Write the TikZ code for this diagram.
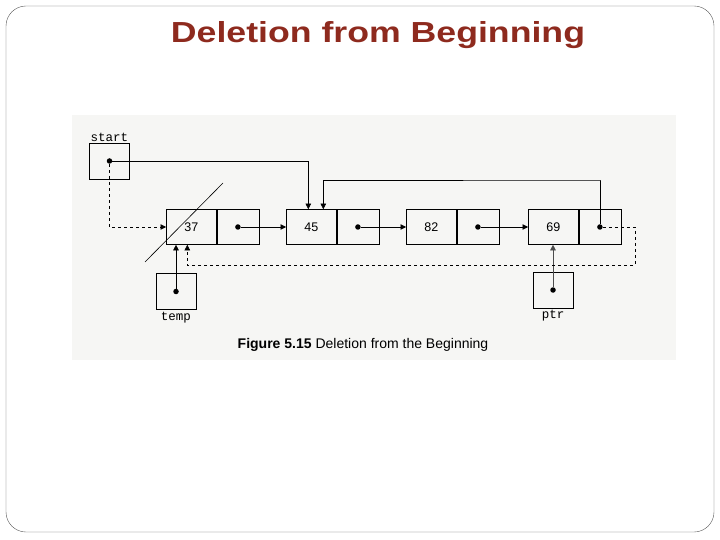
\documentclass[tikz,border=0pt]{standalone}
\usepackage{fontspec}
\setmainfont{Liberation Sans}
\setmonofont{Liberation Mono}
\usetikzlibrary{arrows.meta,positioning}
\definecolor{titlered}{RGB}{142,42,30}
\definecolor{scangray}{RGB}{246,246,244}
\def\rowy{227}
\def\dataw{50pt}
\def\ptrw{42pt}
\def\cellh{35pt}

\begin{document}
\begin{tikzpicture}[x=1pt, y=-1pt,
    cell/.style={draw, line width=0.6pt, minimum height=\cellh, inner sep=0pt, font=\fontsize{12.5}{14}\selectfont},
    datacell/.style={cell, minimum width=\dataw, anchor=west},
    ptrcell/.style={cell, minimum width=\ptrw, right=0pt of #1},
    varbox/.style={draw, line width=0.6pt, minimum width=40pt, minimum height=36pt, inner sep=0pt},
    dot/.style={circle, fill=black, inner sep=0pt, minimum size=5.5pt},
    varlbl/.style={font=\ttfamily\fontsize{12.5}{14}\selectfont, inner sep=1pt},
    link/.style={line width=0.6pt, -{Triangle[length=5.5pt, width=5.5pt]}}]
    \useasboundingbox (0,0) rectangle (720,540);
    % Slide frame and title.
    \draw[rounded corners=20pt, gray!70!black] (6,6) rectangle (714,532);
    \node[font=\bfseries\fontsize{29}{32}\selectfont, text=titlered, xscale=1.23, transform shape] (title) at (378,35) {Deletion from Beginning};
    % Scanned figure background.
    \fill[scangray] (72,115) rectangle (676,360);

    % List nodes: data part and pointer part.
    \node[datacell] (d37) at (166,\rowy) {37};
    \node[ptrcell=d37] (p37) {};
    \node[datacell] (d45) at (286,\rowy) {45};
    \node[ptrcell=d45] (p45) {};
    \node[datacell] (d82) at (406,\rowy) {82};
    \node[ptrcell=d82] (p82) {};
    \node[datacell] (d69) at (528,\rowy) {69};
    \node[ptrcell=d69] (p69) {};
    \foreach \v in {37,45,82,69} {
            \node[dot] (k\v) at (p\v.center) {};
        }

    % Pointer variables.
    \node[varbox] (start) at (109.5,161) {};
    \node[varlbl, above=0pt of start] (startlbl) {start};
    \node[dot] (kstart) at (start.center) {};
    \node[varbox] (temp) at (176,291.5) {};
    \node[varlbl, below=1pt of temp] (templbl) {temp};
    \node[dot] (ktemp) at (temp.center) {};
    \node[varbox] (ptr) at (553,290) {};
    \node[varlbl, below=1pt of ptr] (ptrlbl) {ptr};
    \node[dot] (kptr) at (ptr.center) {};

    % Links between the list nodes.
    \draw[link] (k37) -- (d45);
    \draw[link] (k45) -- (d82);
    \draw[link] (k82) -- (d69);

    % New links after the deletion.
    \coordinate (backtop) at (600,180);
    \draw[link] (kstart) -| ([xshift=-3pt]d45.north);
    \draw[link] (k69) |- (backtop) -| ([xshift=12pt]d45.north);
    \draw[link] (ktemp) -- (ktemp |- d37.south);
    \draw[link, gray!60!black] (kptr) -- (kptr |- d69.south);

    % Old links (dashed).
    \coordinate (loopr) at (635,265);
    \draw[link, dashed] (kstart) |- (d37.west);
    \draw[link, dashed] (k69) -| (loopr) -| ([xshift=-4pt]d37.south);

    % Deleted node is crossed out.
    \draw[line width=0.6pt] (145,262) -- (223,183);

    % Caption.
    \node[font=\fontsize{14}{16}\selectfont] (caption) at (363,345) {\textbf{Figure 5.15} Deletion from the Beginning};
\end{tikzpicture}
\end{document}
